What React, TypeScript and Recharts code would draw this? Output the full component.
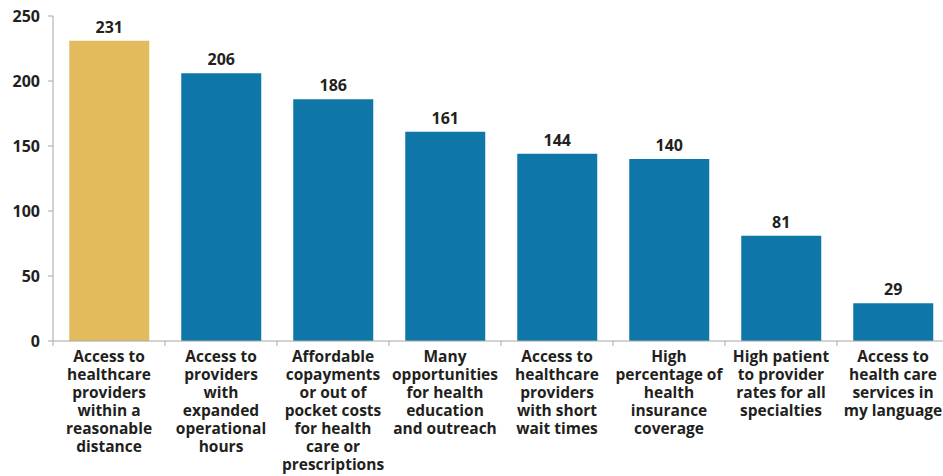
import React from "react";
import { BarChart, Bar, XAxis, YAxis, Cell, LabelList } from "recharts";

const categories: string[][] = [
  ["Access to", "healthcare", "providers", "within a", "reasonable", "distance"],
  ["Access to", "providers", "with", "expanded", "operational", "hours"],
  ["Affordable", "copayments", "or out of", "pocket costs", "for health", "care or", "prescriptions"],
  ["Many", "opportunities", "for health", "education", "and outreach"],
  ["Access to", "healthcare", "providers", "with short", "wait times"],
  ["High", "percentage of", "health", "insurance", "coverage"],
  ["High patient", "to provider", "rates for all", "specialties"],
  ["Access to", "health care", "services in", "my language"],
];
const values = [231, 206, 186, 161, 144, 140, 81, 29];
const highlightIndex = 0;
const yTicks = [0, 50, 100, 150, 200, 250];

const GOLD = "#E2BB5E";
const BLUE = "#0F77A7";
const TEXT = "#231F20";
const AXIS = "#A6A6A6";
const FONT = "'Open Sans', sans-serif";

const data = values.map((v, i) => ({ name: String(i), value: v }));

const VIEW_W = 943;
const W = 949;
const H = 476;
const YAXIS_W = 53;
const BAND = (W - YAXIS_W) / categories.length;

const XTick = (props: any) => {
  const { x, y, payload } = props;
  const idx = Number(payload.value);
  const lines = categories[idx] || [];
  return (
    <g>
      <line x1={x - BAND / 2} x2={x - BAND / 2} y1={y - 8} y2={y - 3} stroke={AXIS} strokeWidth={1} />
      <text
        x={x}
        y={y}
        textAnchor="middle"
        fontFamily={FONT}
        fontWeight={700}
        fontSize={15.5}
        fill={TEXT}
      >
        {lines.map((l, i) => (
          <tspan key={i} x={x} y={y + 13 + i * 18}>
            {l}
          </tspan>
        ))}
      </text>
    </g>
  );
};

export default function App() {
  return (
    <div
      style={{
        position: "absolute",
        left: 0,
        top: 0,
        width: VIEW_W,
        height: H,
        overflow: "hidden",
        background: "#fff",
      }}
    >
      <BarChart
        width={W}
        height={H}
        data={data}
        margin={{ top: 16, right: 0, bottom: 0, left: 0 }}
        barCategoryGap="14.5%"
      >
        <XAxis
          dataKey="name"
          height={135}
          axisLine={{ stroke: AXIS }}
          tickLine={false}
          tick={<XTick />}
          interval={0}
        />
        <YAxis
          width={YAXIS_W}
          domain={[0, 250]}
          ticks={yTicks}
          axisLine={{ stroke: AXIS }}
          tickLine={{ stroke: AXIS }}
          tickSize={5}
          tickMargin={8}
          tick={{ fontFamily: FONT, fontWeight: 700, fontSize: 16, fill: TEXT }}
        />
        <Bar dataKey="value" isAnimationActive={false}>
          {data.map((d, i) => (
            <Cell key={i} fill={i === highlightIndex ? GOLD : BLUE} />
          ))}
          <LabelList
            dataKey="value"
            position="top"
            offset={8}
            fontFamily={FONT}
            fontWeight={700}
            fontSize={16}
            fill={TEXT}
          />
        </Bar>
      </BarChart>
    </div>
  );
}
